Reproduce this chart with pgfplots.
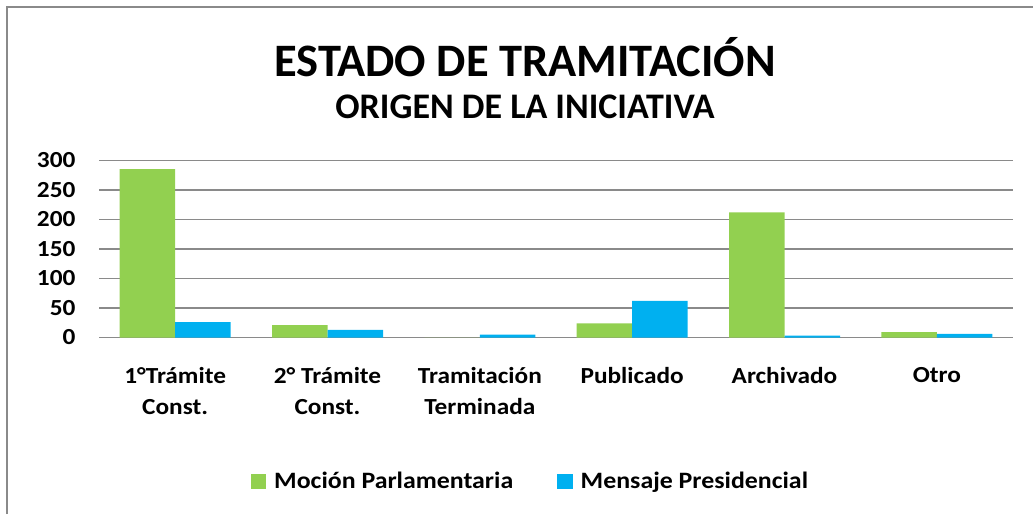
\documentclass[border=0pt]{standalone}
\usepackage{fontspec}
\setmainfont{Carlito}
\newfontfamily\lab[FakeStretch=1.1]{Carlito}
\usepackage{pgfplots}
\pgfplotsset{compat=1.18}
\definecolor{verde}{HTML}{92D050}
\definecolor{azul}{HTML}{00B0F0}
\definecolor{gridc}{HTML}{8A8A8A}
\begin{document}
\begin{tikzpicture}[x=1pt,y=1pt]
\useasboundingbox (0,0) rectangle (1033,514);
\draw[gridc, line width=2pt] (7,0) -- (7,507) -- (1033,507);
\node[font=\fontsize{46.5}{50}\selectfont\bfseries] at (525,457) {ESTADO DE TRAMITACIÓN};
\node[font=\fontsize{36}{40}\selectfont\bfseries] at (525,407) {ORIGEN DE LA INICIATIVA};
\begin{axis}[
  at={(99pt,176.5pt)}, anchor=south west, scale only axis,
  width=914pt, height=177.2pt,
  ymin=0, ymax=300, xmin=-0.5, xmax=5.5,
  ytick={0,50,...,300}, xtick={0,...,5},
  xticklabels={{1°Trámite\\Const.},{2° Trámite\\Const.},{Tramitación\\Terminada},{Publicado},{Archivado},{Otro}},
  axis line style={draw=none},
  major tick length=0pt,
  ymajorgrids, grid style={gridc, line width=1.6pt},
  ybar=0pt, bar width=55.5pt,
  /pgf/number format/assume math mode=true,
  yticklabel style={font=\lab\fontsize{23}{26}\selectfont\bfseries, anchor=east, xshift=-20pt},
  xticklabel style={font=\lab\fontsize{23}{31}\selectfont\bfseries, align=center, anchor=north, yshift=-26pt},
  legend style={at={(0.472,-0.812)}, anchor=center, draw=none, legend columns=2,
    font=\lab\fontsize{23.5}{26}\selectfont\bfseries,
    /tikz/every odd column/.append style={column sep=6pt},
    /tikz/every even column/.append style={column sep=42pt}},
  legend image code/.code={\fill (0pt,-8pt) rectangle (15.5pt,7.5pt);},
]
\addplot[fill=verde, draw=none, bar shift=-27.75pt] coordinates {(0,285) (1,21) (2,0) (3,24) (4,212) (5,9)};
\addplot[fill=azul, draw=none, bar shift=27.75pt] coordinates {(0,26) (1,13) (2,5) (3,62) (4,3) (5,6)};
\legend{Moción Parlamentaria, Mensaje Presidencial}
\end{axis}
\end{tikzpicture}
\end{document}
